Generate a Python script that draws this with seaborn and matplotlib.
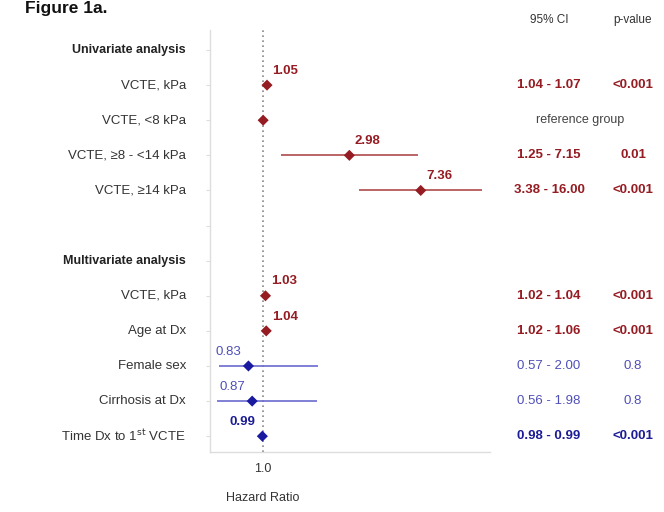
import numpy as np
import pandas as pd
import matplotlib
matplotlib.use('Agg')
import matplotlib.pyplot as plt
import matplotlib.transforms as mtransforms
import seaborn as sns

sns.set_style('white')
plt.rcParams['font.family'] = ['Liberation Sans', 'DejaVu Sans']

# 数据
labels = ['VCTE, kPa', 'VCTE, <8 kPa', 'VCTE, \u22658 - <14 kPa', 'VCTE, \u226514 kPa',
          'VCTE, kPa', 'Age at Dx', 'Female sex', 'Cirrhosis at Dx', 'Time Dx to 1$^{\\rm st}$ VCTE']
rows = [1, 2, 3, 4, 7, 8, 9, 10, 11]
hr = [1.05, 1.00, 2.98, 7.36, 1.03, 1.04, 0.83, 0.87, 0.99]
ci_low = [1.04, np.nan, 1.25, 3.38, 1.02, 1.02, 0.57, 0.56, 0.98]
ci_high = [1.07, np.nan, 7.15, 16.00, 1.04, 1.06, 2.00, 1.98, 0.99]
ci_text = ['1.04 - 1.07', '', '1.25 - 7.15', '3.38 - 16.00', '1.02 - 1.04',
           '1.02 - 1.06', '0.57 - 2.00', '0.56 - 1.98', '0.98 - 0.99']
p_text = ['<0.001', '', '0.01', '<0.001', '<0.001', '<0.001', '0.8', '0.8', '<0.001']
group = ['up', 'ref', 'up', 'up', 'up', 'up', 'down', 'down', 'down']
headers = ['Univariate analysis', 'Multivariate analysis']
header_rows = [0, 6]

df = pd.DataFrame({'label': labels, 'row': rows, 'hr': hr, 'lo': ci_low, 'hi': ci_high,
                   'ci': ci_text, 'p': p_text, 'group': group})

RED = '#951c22'
BLUE = '#1c1c96'
LBLUE = '#4f4fb8'
GRAY = '#333333'
marker_pal = {'up': RED, 'ref': RED, 'down': '#1a1aa0'}
line_col = {'up': '#b04a4a', 'ref': '#b04a4a', 'down': '#6a6ad0'}

fig = plt.figure(figsize=(6.64, 5.12), dpi=100)
ax = fig.add_axes([210 / 664, 60 / 512, 280 / 664, 422 / 512])

# 置信区间
for _, r in df.dropna(subset=['lo']).iterrows():
    ax.hlines(r['row'], r['lo'], r['hi'], color=line_col[r['group']], lw=1.2, zorder=2)

ax.axvline(1.0, color='#888888', ls=(0, (1, 2)), lw=1.2, zorder=1)

sns.scatterplot(data=df, x='hr', y='row', hue='group', palette=marker_pal, marker='D',
                s=32, edgecolor='none', legend=False, ax=ax, zorder=3)

ax.set_xscale('log')
ax.set_xlim(0.51, 17.7)
ax.set_ylim(11.45, -0.57)
ax.set_xticks([1.0])
ax.set_xticklabels(['1.0'])
ax.xaxis.set_minor_locator(matplotlib.ticker.NullLocator())
ax.set_yticks(list(range(12)))
ax.set_yticklabels([])
ax.tick_params(axis='y', length=3, color='#dddddd', direction='out', left=True)
ax.tick_params(axis='x', length=0, labelsize=9, labelcolor=GRAY, pad=8)
ax.set_xlabel('')
ax.set_ylabel('')
for s in ['top', 'right']:
    ax.spines[s].set_visible(False)
for s in ['left', 'bottom']:
    ax.spines[s].set_color('#dddddd')
    ax.spines[s].set_linewidth(1.0)

# 数值标签
for _, r in df.iterrows():
    if r['group'] == 'ref':
        continue
    if r['group'] == 'down':
        bold = r['p'] == '<0.001'
        ax.annotate(f"{r['hr']:.2f}", (r['hr'], r['row']), xytext=(-5, 6), textcoords='offset points',
                    ha='right', va='bottom', fontsize=9.5,
                    color=BLUE if bold else LBLUE, fontweight='bold' if bold else 'normal')
    else:
        ax.annotate(f"{r['hr']:.2f}", (r['hr'], r['row']), xytext=(4, 6), textcoords='offset points',
                    ha='left', va='bottom', fontsize=9.5, color=RED, fontweight='bold')

# 左侧标签和右侧表格
trans = mtransforms.blended_transform_factory(fig.transFigure, ax.transData)
for h, hrw in zip(headers, header_rows):
    ax.text(186 / 664, hrw, h, transform=trans, ha='right', va='center',
            fontsize=9, fontweight='bold', color='#222222')
for _, r in df.iterrows():
    ax.text(186 / 664, r['row'], r['label'], transform=trans, ha='right', va='center',
            fontsize=9.5, color=GRAY)
    if r['group'] == 'ref':
        ax.text(580 / 664, r['row'], 'reference group', transform=trans, ha='center',
                va='center', fontsize=9, color='#444444')
        continue
    if r['group'] == 'down' and r['p'] != '<0.001':
        col, fw = LBLUE, 'normal'
    elif r['group'] == 'down':
        col, fw = BLUE, 'bold'
    else:
        col, fw = RED, 'bold'
    ax.text(549 / 664, r['row'], r['ci'], transform=trans, ha='center', va='center',
            fontsize=9.5, color=col, fontweight=fw)
    ax.text(633 / 664, r['row'], r['p'], transform=trans, ha='center', va='center',
            fontsize=9.5, color=col, fontweight=fw)

fig.text(549 / 664, 1 - 20 / 512, '95% CI', ha='center', va='center', fontsize=8.5, color=GRAY)
fig.text(633 / 664, 1 - 20 / 512, 'p-value', ha='center', va='center', fontsize=8.5, color=GRAY)
fig.text(25 / 664, 1 - 1 / 512, 'Figure 1a.', ha='left', va='top', fontsize=12.5,
         fontweight='bold', color='#111111')
ax.text(1.0, -0.11, 'Hazard Ratio', transform=mtransforms.blended_transform_factory(ax.transData, ax.transAxes),
        ha='center', va='center', fontsize=9, color=GRAY)

fig.savefig('out.png', dpi=100)
